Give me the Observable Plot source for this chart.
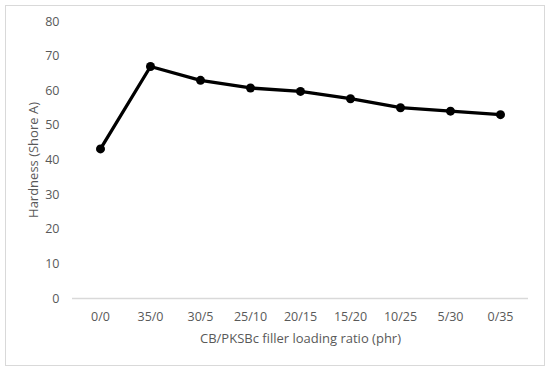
<!DOCTYPE html>
<html><head><meta charset="utf-8">
<script src="https://cdn.jsdelivr.net/npm/d3@7"></script>
<script src="https://cdn.jsdelivr.net/npm/@observablehq/plot@0.6"></script>
<style>
body{margin:0;background:#fff;}
#wrap{position:relative;width:550px;height:371px;}
#border{position:absolute;left:5px;top:5px;width:538px;height:359px;border:1px solid #d9d9d9;}
#chart{position:absolute;left:0;top:0;}
</style></head>
<body><div id="wrap"><div id="border"></div><div id="chart"></div></div>
<script>
const ratios = ["0/0","35/0","30/5","25/10","20/15","15/20","10/25","5/30","0/35"];
const hardness = [43.2, 67, 63, 60.8, 59.8, 57.7, 55.1, 54.1, 53.1];
const yTicks = [0,10,20,30,40,50,60,70,80];
const data = ratios.map((r,i)=>({ratio:r, hardness:hardness[i]}));
const font = "'Open Sans', sans-serif";
const chart = Plot.plot({
  width: 550, height: 371,
  marginLeft: 72, marginRight: 22, marginTop: 21, marginBottom: 73,
  style: {fontFamily: font, fontSize: "12px", color: "#595959", background: "transparent"},
  x: {type: "point", domain: ratios, padding: 0.5, label: null},
  y: {domain: [0, 80], label: null},
  marks: [
    Plot.axisX({tickSize: 0, tickPadding: 14, fontSize: 12.5, fill: "#595959"}),
    Plot.axisY({ticks: yTicks, tickSize: 0, tickPadding: 13, fontSize: 12.5, fill: "#595959"}),
    Plot.ruleY([0], {stroke: "#d9d9d9", strokeWidth: 1.3}),
    Plot.line(data, {x: "ratio", y: "hardness", stroke: "black", strokeWidth: 3.3}),
    Plot.dot(data, {x: "ratio", y: "hardness", fill: "black", r: 4.5}),
    Plot.text(["CB/PKSBc filler loading ratio (phr)"], {frameAnchor: "bottom", dy: 44, fontSize: 13, fill: "#595959"}),
    Plot.text(["Hardness (Shore A)"], {frameAnchor: "left", textAnchor: "middle", dx: -39, rotate: -90, fontSize: 13, fill: "#595959"})
  ]
});
document.getElementById("chart").appendChild(chart);
</script></body></html>
